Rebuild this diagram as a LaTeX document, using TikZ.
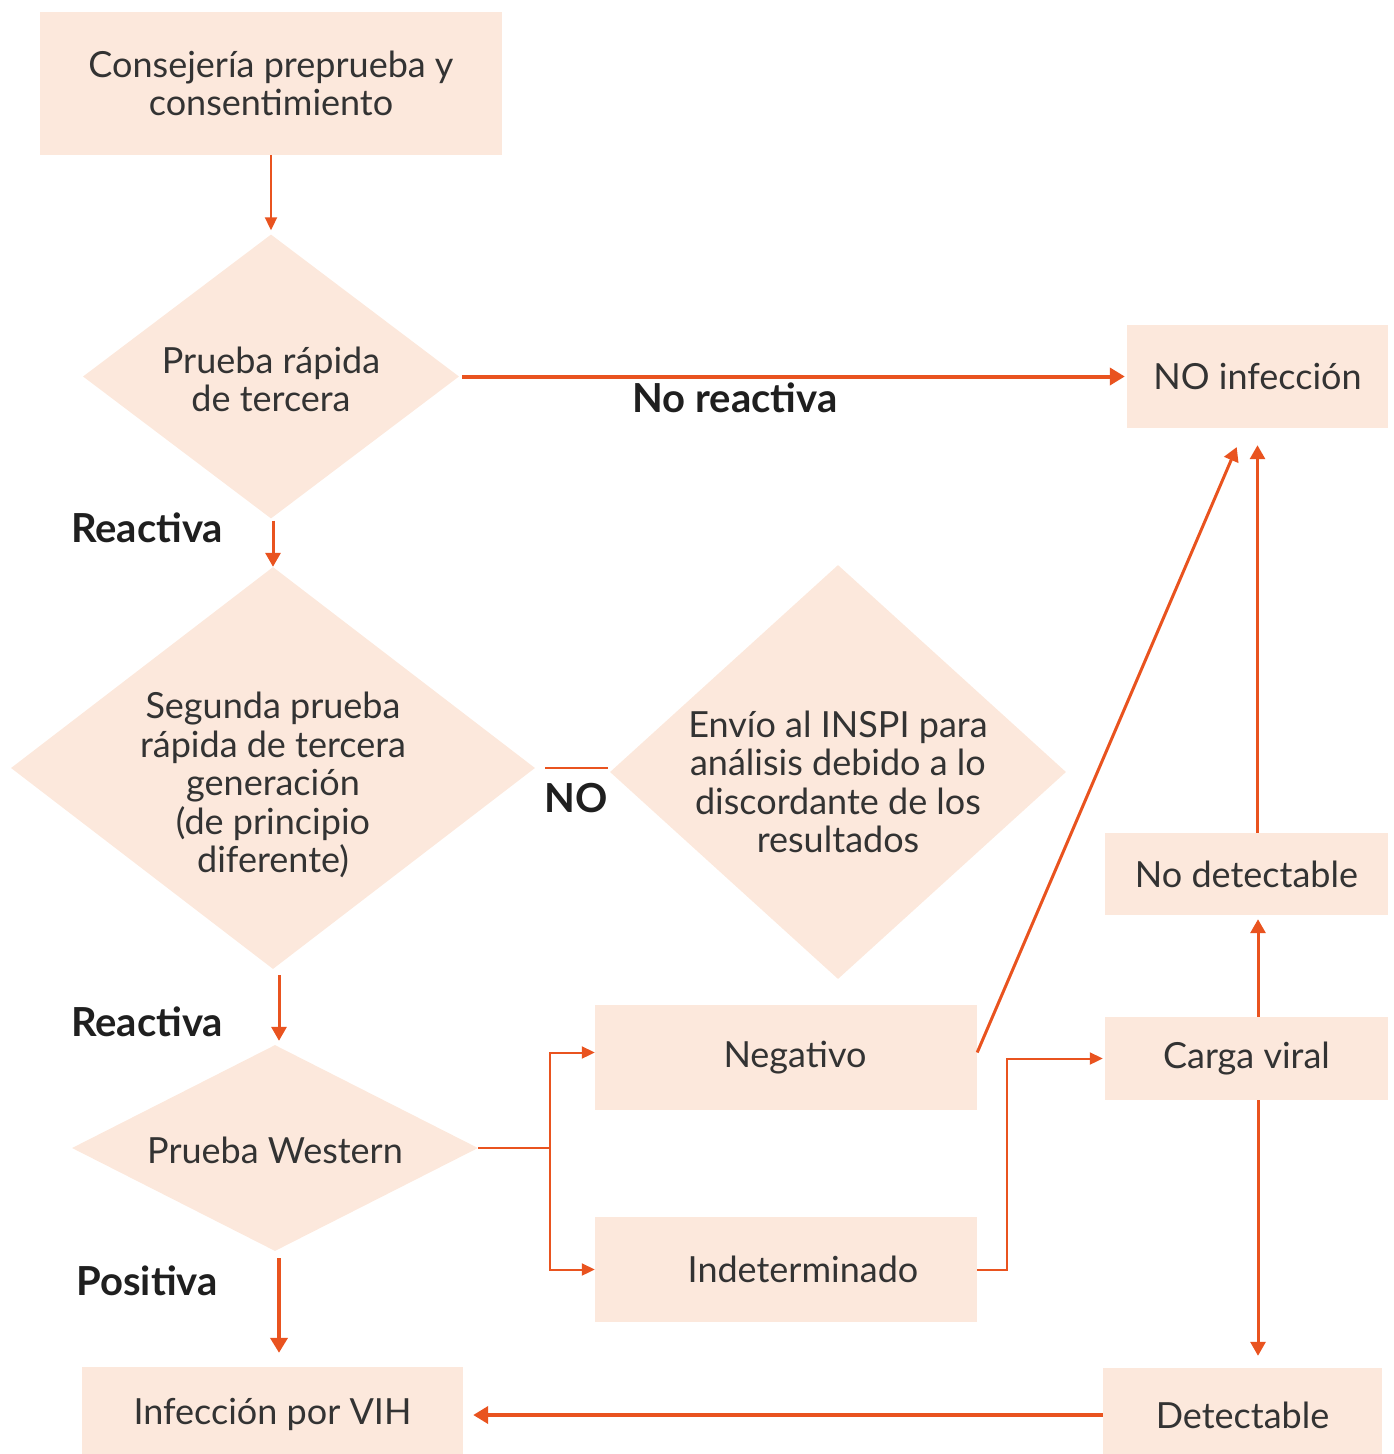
\documentclass[tikz,border=0pt]{standalone}
\usepackage{fontspec}
\setmainfont{Lato}
\usetikzlibrary{shapes.geometric,arrows.meta}
\definecolor{peach}{HTML}{FCE8DC}
\definecolor{arr}{HTML}{E9531F}
\definecolor{txtc}{HTML}{333333}
\begin{document}
\begin{tikzpicture}[x=1pt,y=-1pt,
  box/.style={rectangle, fill=peach, inner sep=0pt, text=txtc, font=\fontsize{36}{38.5}\selectfont, align=center},
  dia/.style={diamond, fill=peach, inner sep=0pt},
  diatxt/.style={text=txtc, font=\fontsize{36}{38.5}\selectfont, align=center},
  lbl/.style={font=\bfseries\fontsize{40}{42}\selectfont, text=black!88},
  arrthin/.style={draw=arr, line width=2pt, -{Triangle[length=13pt,width=12pt]}},
  arrmid/.style={draw=arr, line width=3pt, -{Triangle[length=14pt,width=15pt]}},
  arrthick/.style={draw=arr, line width=4pt, -{Triangle[length=15pt,width=17pt]}},
  plain/.style={draw=arr, line width=2pt}]
\useasboundingbox (0,0) rectangle (1394,1454);

% nodes
\node[box, minimum width=462pt, minimum height=143pt] (b1) at (271,83.5) {Consejería preprueba y\\consentimiento};
\node[dia, minimum width=376pt, minimum height=284pt,
      label={[diatxt, yshift=-3pt]center:{Prueba rápida\\de tercera}}] (d1) at (271,376.5) {};
\node[dia, minimum width=524pt, minimum height=402pt,
      label={[diatxt, yshift=-17pt]center:{Segunda prueba\\rápida de tercera\\generación\\(de principio\\diferente)}}] (d2) at (273,768) {};
\node[dia, minimum width=456pt, minimum height=414pt,
      label={[diatxt, yshift=-10pt]center:{Envío al INSPI para\\análisis debido a lo\\discordante de los\\resultados}}] (d3) at (838,772) {};
\node[dia, minimum width=406pt, minimum height=206pt,
      label={[diatxt, yshift=-2pt]center:{Prueba Western}}] (d4) at (275,1148) {};

\node[box, minimum width=261pt, minimum height=103pt] (noinf) at (1257.5,376.5) {NO infección};
\node[box, minimum width=382pt, minimum height=105pt] (neg) at (786,1057.5) {\hspace*{18pt}Negativo};
\node[box, minimum width=382pt, minimum height=105pt] (ind) at (786,1269.5) {\hspace*{34pt}Indeterminado};
\node[box, minimum width=283pt, minimum height=83pt] (carga) at (1246.5,1058.5) {Carga viral};
\node[box, minimum width=283pt, minimum height=82pt] (nodet) at (1246.5,874) {No detectable};
\node[box, minimum width=279pt, minimum height=94pt] (det) at (1242.5,1415) {Detectable};
\node[box, minimum width=381pt, minimum height=94pt] (vih) at (272.5,1414) {Infección por VIH};

% labels
\node[lbl] (lnr) at (735,398) {No reactiva};
\node[lbl] (lr1) at (147,528) {Reactiva};
\node[lbl] (lno) at (576,798) {NO};
\node[lbl] (lr2) at (147,1022) {Reactiva};
\node[lbl] (lpos) at (147,1281) {Positiva};

% connectors
\draw[arrthin, shorten >=4pt] (b1.south) -- (d1.north);
\draw[arrthick, shorten <=3pt, shorten >=2pt] (d1.east) -- (noinf.west);
\draw[arrmid, shorten <=2pt] ([xshift=2pt]d1.south) -- ([xshift=0pt]d2.north);
\draw[plain, shorten <=10pt, shorten >=2pt] (d2.east) -- (d2.east -| d3.west);
\draw[arrmid, shorten <=6pt, shorten >=4pt] ([xshift=6pt]d2.south) -- ([xshift=4pt]d4.north);
\draw[plain] (d4.east) -- ++(72,0) coordinate (fork);
\draw[arrthin] (fork) |- ([yshift=5pt]neg.west);
\draw[arrthin] (fork) |- (ind.west);
\draw[arrmid, shorten >=2pt] ([yshift=5pt]neg.east) -- ([xshift=-20pt,yshift=-17pt]noinf.south);
\draw[arrthin, shorten >=2pt] (ind.east) -- ++(30,0) |- (carga.west);
\draw[arrmid, shorten >=4pt] ([xshift=11.5pt]carga.north) -- ([xshift=11.5pt]nodet.south);
\draw[arrmid, shorten >=17pt] ([xshift=11pt]nodet.north) -- ([xshift=0pt]noinf.south);
\draw[arrmid, shorten >=12pt] ([xshift=11.5pt]carga.south) -- ([xshift=11.5pt]carga.south |- det.north);
\draw[arrthick, shorten >=10pt] (det.west) -- (det.west -| vih.east);
\draw[arrthick, shorten <=7pt, shorten >=14pt] ([xshift=4pt]d4.south) -- ([xshift=6.5pt]vih.north);
\end{tikzpicture}
\end{document}
